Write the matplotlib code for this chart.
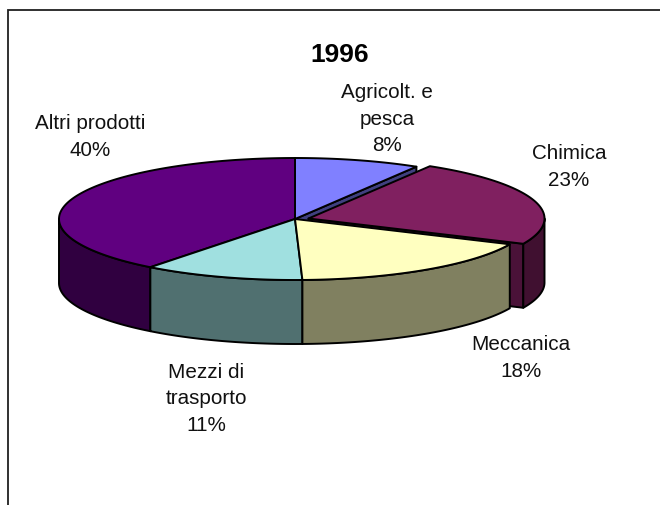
import numpy as np
import matplotlib
matplotlib.use("Agg")
import matplotlib.pyplot as plt
from matplotlib.patches import Polygon

categories = ["Agricolt. e\npesca", "Chimica", "Meccanica", "Mezzi di\ntrasporto", "Altri prodotti"]
shown_pct = ["8%", "23%", "18%", "11%", "40%"]
values = [8.6, 23.2, 17.7, 11.0, 39.5]
top_colors = ["#8080FF", "#802060", "#FFFFC0", "#A0E0E0", "#600080"]
side_colors = ["#404080", "#401030", "#808060", "#507070", "#300040"]
inner_side_colors = ["#404080", "#4A1238", "#808060", "#507070", "#300040"]
explode_px = [(0, 0), (13.5, -0.5), (0, 0), (0, 0), (0, 0)]

W, H = 660, 506
CX, CY, RX, RY, DEPTH = 295.0, 220.0, 236.0, 61.0, 64.0
LW = 1.4

fig = plt.figure(figsize=(W / 100, H / 100), dpi=100)
ax = fig.add_axes([0, 0, 1, 1])
ax.set_xlim(0, W)
ax.set_ylim(H, 0)
ax.axis("off")
plt.rcParams["font.family"] = ["Liberation Sans", "DejaVu Sans"]

ax.plot([8, 8, W], [H, 11, 11], color="#202020", lw=1.3, solid_joinstyle="miter")

cum = np.concatenate([[0], np.cumsum(values)]) / sum(values) * 2 * np.pi


def pt(a, off=(0, 0), dz=0.0):
    a = np.asarray(a)
    return np.column_stack([CX + off[0] + RX * np.sin(a), CY + off[1] + dz - RY * np.cos(a)])


def poly(xy, fc, z):
    ax.add_patch(Polygon(xy, closed=True, fc=fc, ec="black", lw=LW, joinstyle="round", zorder=z))


def centre(off, dz=0.0):
    return np.array([[CX + off[0], CY + off[1] + dz]])


def outer_wall(a0, a1, off, fc, z):
    # only the front half of the rim (pi/2 .. 3pi/2) is visible
    lo, hi = max(a0, np.pi / 2), min(a1, 3 * np.pi / 2)
    if hi <= lo:
        return
    arc = np.linspace(lo, hi, 120)
    poly(np.vstack([pt(arc, off), pt(arc[::-1], off, DEPTH)]), fc, z)


def radial_wall(a, off, fc, z):
    p = pt([a], off)
    poly(np.vstack([centre(off), p, p + [0, DEPTH], centre(off, DEPTH)]), fc, z)


z = 2
# Agricoltura end wall shows in the gap; Chimica end wall shows behind Meccanica
radial_wall(cum[1], explode_px[0], side_colors[0], z)
z += 1
radial_wall(cum[2], explode_px[1], inner_side_colors[1], z)
z += 1
outer_wall(cum[1], cum[2], explode_px[1], side_colors[1], z)
z += 1
for i in [4, 3, 2]:
    outer_wall(cum[i], cum[i + 1], explode_px[i], side_colors[i], z)
    z += 1
for i in [0, 1, 4, 3, 2]:
    arc = np.linspace(cum[i], cum[i + 1], 160)
    poly(np.vstack([centre(explode_px[i]), pt(arc, explode_px[i])]), top_colors[i], z)
    z += 1

ax.text(340, 55, "1996", ha="center", va="center", fontsize=19, fontweight="bold", color="black")

label_xy = [(387, 119), (569, 167), (521, 358), (206, 399), (90, 137)]
for name, pct, (x, y) in zip(categories, shown_pct, label_xy):
    ax.text(x, y, name + "\n" + pct, ha="center", va="center", fontsize=14.9,
            color="#111111", linespacing=1.48)

fig.savefig("out.png", dpi=100)
